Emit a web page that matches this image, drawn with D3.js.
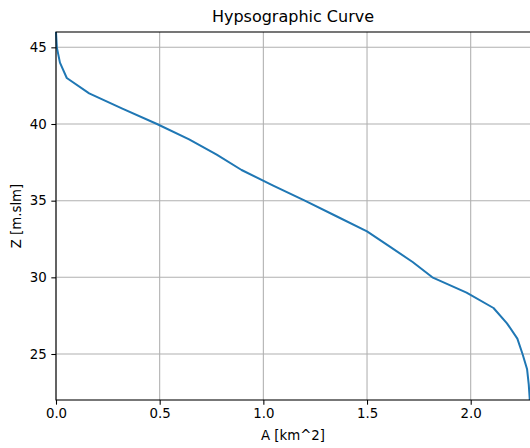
<!DOCTYPE html>
<html>
<head>
<meta charset="utf-8">
<title>Hypsographic Curve</title>
<script src="https://cdn.jsdelivr.net/npm/d3@7"></script>
<style>
  html, body { margin: 0; padding: 0; background: #fff; }
  svg { display: block; font-family: "DejaVu Sans", sans-serif; }
</style>
</head>
<body>
<div id="chart"></div>
<script>
// Elevation (m a.s.l.) and cumulative area (km^2)
const elevation = [46, 45, 44, 43, 42, 41, 40, 39, 38, 37, 36, 35, 34, 33,
                   32, 31, 30, 29, 28, 27, 26, 25, 24, 23, 22];
const area = [0.0, 0.004, 0.019, 0.052, 0.16, 0.32, 0.487, 0.642, 0.775, 0.895,
              1.045, 1.20, 1.35, 1.50, 1.61, 1.72, 1.815, 1.98, 2.11, 2.175,
              2.225, 2.25, 2.272, 2.28, 2.285];
const xTicks = [0.0, 0.5, 1.0, 1.5, 2.0];
const yTicks = [25, 30, 35, 40, 45];

const points = elevation.map((z, i) => ({ a: area[i], z }));

// Figure dimensions
const W = 530, H = 448;
const margin = { top: 32, right: 0, bottom: 48, left: 56 };
const width = W - margin.left - margin.right;
const height = H - margin.top - margin.bottom;

const svg = d3.select('#chart')
  .append('svg')
  .attr('width', W)
  .attr('height', H);

const g = svg.append('g')
  .attr('transform', `translate(${margin.left},${margin.top})`);

// Scales
const x = d3.scaleLinear().domain([0, 2.286]).range([0, width]);
const y = d3.scaleLinear().domain([22, 46]).range([height, 0]);

// Grid lines
g.append('g')
  .selectAll('line')
  .data(xTicks)
  .join('line')
  .attr('x1', d => x(d)).attr('x2', d => x(d))
  .attr('y1', 0).attr('y2', height)
  .attr('stroke', '#b0b0b0')
  .attr('stroke-width', 1.07);

g.append('g')
  .selectAll('line')
  .data(yTicks)
  .join('line')
  .attr('x1', 0).attr('x2', width)
  .attr('y1', d => y(d)).attr('y2', d => y(d))
  .attr('stroke', '#b0b0b0')
  .attr('stroke-width', 1.07);

// Curve
const line = d3.line()
  .x(d => x(d.a))
  .y(d => y(d.z));

g.append('path')
  .datum(points)
  .attr('fill', 'none')
  .attr('stroke', '#1f77b4')
  .attr('stroke-width', 2)
  .attr('stroke-linejoin', 'round')
  .attr('d', line);

// Axes
const xAxis = d3.axisBottom(x)
  .tickValues(xTicks)
  .tickFormat(d3.format('.1f'))
  .tickSize(4.67)
  .tickPadding(4.2)
  .tickSizeOuter(0);

const yAxis = d3.axisLeft(y)
  .tickValues(yTicks)
  .tickFormat(d3.format('d'))
  .tickSize(4.67)
  .tickPadding(4.67)
  .tickSizeOuter(0);

const gx = g.append('g')
  .attr('transform', `translate(0,${height})`)
  .call(xAxis);

const gy = g.append('g').call(yAxis);

[gx, gy].forEach(ax => {
  ax.select('.domain').remove();
  ax.selectAll('line').attr('stroke', '#000').attr('stroke-width', 1.07);
  ax.selectAll('text')
    .attr('fill', '#000')
    .attr('font-size', '13.33px')
    .attr('font-family', '"DejaVu Sans", sans-serif');
});

// Spines (right spine sits on the figure edge)
g.append('rect')
  .attr('x', 0).attr('y', 0)
  .attr('width', width + 2).attr('height', height)
  .attr('fill', 'none')
  .attr('stroke', '#000')
  .attr('stroke-width', 1.07);

// Title and axis labels
svg.append('text')
  .attr('x', margin.left + width / 2)
  .attr('y', 21.5)
  .attr('text-anchor', 'middle')
  .attr('font-size', '16px')
  .attr('fill', '#000')
  .text('Hypsographic Curve');

svg.append('text')
  .attr('x', margin.left + width / 2)
  .attr('y', 440)
  .attr('text-anchor', 'middle')
  .attr('font-size', '13.33px')
  .attr('fill', '#000')
  .text('A [km^2]');

svg.append('text')
  .attr('transform', `translate(16,${margin.top + height / 2}) rotate(-90)`)
  .attr('text-anchor', 'middle')
  .attr('dy', '0.35em')
  .attr('font-size', '13.33px')
  .attr('fill', '#000')
  .text('Z [m.slm]');
</script>
</body>
</html>
